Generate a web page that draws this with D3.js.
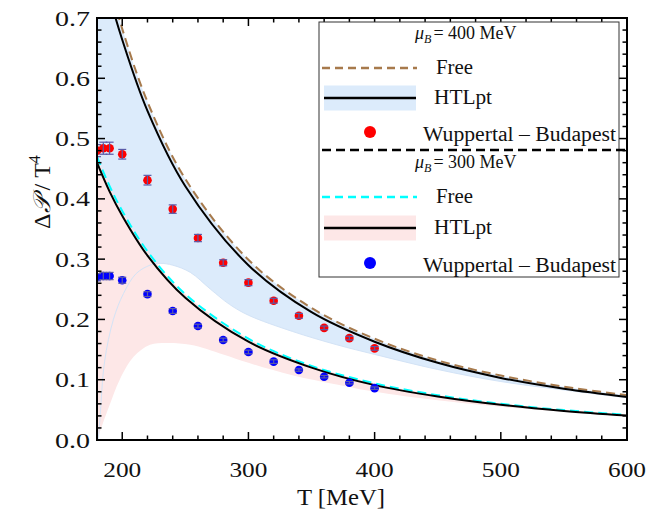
<!DOCTYPE html>
<html>
<head>
<meta charset="utf-8">
<script src="https://cdn.jsdelivr.net/npm/d3@7"></script>
<style>
  body { margin: 0; background: #fff; }
  svg text { font-family: "Liberation Serif", "Times New Roman", serif; fill: #111; }
</style>
</head>
<body>
<div id="chart"></div>
<script>
// curve samples
const T_CURVE = [180, 190, 200, 220, 250, 300, 350, 400, 450, 500, 550, 600];
const free400 = [0.846, 0.757, 0.682, 0.561, 0.433, 0.299, 0.219, 0.168, 0.132, 0.107, 0.0885, 0.0743];
const htl400  = [0.820, 0.735, 0.664, 0.546, 0.421, 0.290, 0.212, 0.163, 0.128, 0.103, 0.085, 0.0715];
const free300 = [0.470, 0.421, 0.380, 0.313, 0.242, 0.168, 0.123, 0.094, 0.0743, 0.0601, 0.0496, 0.0417];
const htl300  = [0.460, 0.412, 0.372, 0.306, 0.236, 0.163, 0.120, 0.091, 0.0722, 0.0584, 0.0482, 0.0405];

// lower edges of the HTLpt bands
const lowT400 = [181, 182.5, 186, 193, 201, 211, 222, 230, 240, 254, 270, 285, 300, 335, 370, 400, 450, 500, 550, 600];
const low400  = [0, 0.04, 0.13, 0.20, 0.243, 0.276, 0.290, 0.293, 0.290, 0.278, 0.25, 0.225, 0.207, 0.18, 0.158, 0.142, 0.117, 0.097, 0.083, 0.070];
const lowT300 = [180, 182, 185, 190, 198, 209, 222, 235, 254, 280, 300, 334, 370, 400, 450, 500, 550, 600];
const low300  = [0, 0.012, 0.03, 0.058, 0.10, 0.138, 0.158, 0.161, 0.158, 0.142, 0.128, 0.108, 0.092, 0.080, 0.066, 0.055, 0.047, 0.039];

// lattice points (Wuppertal-Budapest)
const T_DATA  = [180, 185, 190, 200, 220, 240, 260, 280, 300, 320, 340, 360, 380, 400];
const wb400   = [0.480, 0.484, 0.484, 0.474, 0.431, 0.383, 0.335, 0.294, 0.261, 0.231, 0.206, 0.186, 0.169, 0.152];
const wbErr400 = [0.010, 0.010, 0.010, 0.008, 0.008, 0.007, 0.006, 0.005, 0.005, 0.004, 0.004, 0.003, 0.003, 0.003];
const wb300   = [0.270, 0.272, 0.272, 0.265, 0.242, 0.214, 0.189, 0.166, 0.146, 0.130, 0.116, 0.105, 0.095, 0.086];
const wbErr300 = [0.006, 0.006, 0.006, 0.005, 0.004, 0.004, 0.003, 0.003, 0.003, 0.003, 0.002, 0.002, 0.002, 0.002];

const xTicks = [200, 300, 400, 500, 600];
const yTicks = [0.0, 0.1, 0.2, 0.3, 0.4, 0.5, 0.6, 0.7];

const W = 662, H = 512;
const box = { left: 97, right: 627, top: 18, bottom: 440 };

const svg = d3.select('#chart').append('svg').attr('width', W).attr('height', H);

const x = d3.scaleLinear().domain([180, 600]).range([box.left, box.right]);
const y = d3.scaleLinear().domain([0, 0.7]).range([box.bottom, box.top]);

svg.append('clipPath').attr('id', 'clip')
  .append('rect')
  .attr('x', box.left).attr('y', box.top)
  .attr('width', box.right - box.left).attr('height', box.bottom - box.top);

const plot = svg.append('g').attr('clip-path', 'url(#clip)');

const pts = (ts, vs) => ts.map((t, i) => [x(t), y(vs[i])]);
const line = d3.line().curve(d3.curveCatmullRom.alpha(0.5));

function bandPath(upT, upV, loT, loV) {
  const up = line(pts(upT, upV));
  const lo = line(pts(loT, loV).reverse());
  return up + lo.replace(/^M/, 'L') + 'Z';
}

const blueFill = '#dcebfb', pinkFill = '#fde7e7';

plot.append('path').attr('d', bandPath(T_CURVE, free400, lowT400, low400)).attr('fill', blueFill);
plot.append('path').attr('d', bandPath(T_CURVE, free300, lowT300, low300)).attr('fill', pinkFill);
plot.append('path').attr('d', line(pts(lowT400, low400)))
  .attr('fill', 'none').attr('stroke', '#d3e3f6').attr('stroke-width', 1);

plot.append('path').attr('d', line(pts(T_CURVE, free400)))
  .attr('fill', 'none').attr('stroke', '#a77a4c').attr('stroke-width', 2).attr('stroke-dasharray', '9,5');
plot.append('path').attr('d', line(pts(T_CURVE, free300)))
  .attr('fill', 'none').attr('stroke', '#00ffff').attr('stroke-width', 2).attr('stroke-dasharray', '9,5');
plot.append('path').attr('d', line(pts(T_CURVE, htl400)))
  .attr('fill', 'none').attr('stroke', '#000').attr('stroke-width', 2);
plot.append('path').attr('d', line(pts(T_CURVE, htl300)))
  .attr('fill', 'none').attr('stroke', '#000').attr('stroke-width', 2);

const errColor = '#5a5aa8';
function drawPoints(vals, errs, color) {
  const g = plot.append('g');
  T_DATA.forEach((t, i) => {
    g.append('circle').attr('cx', x(t)).attr('cy', y(vals[i])).attr('r', 4.3).attr('fill', color);
  });
  T_DATA.forEach((t, i) => {
    const cx = x(t), y0 = y(vals[i] - errs[i]), y1 = y(vals[i] + errs[i]);
    g.append('line').attr('x1', cx).attr('x2', cx).attr('y1', y0).attr('y2', y1)
      .attr('stroke', errColor).attr('stroke-width', 1.2);
    [y0, y1].forEach(yy => g.append('line').attr('x1', cx - 4).attr('x2', cx + 4).attr('y1', yy).attr('y2', yy)
      .attr('stroke', errColor).attr('stroke-width', 1.2));
  });
}
drawPoints(wb400, wbErr400, '#ff0000');
drawPoints(wb300, wbErr300, '#0000ff');

// frame and ticks (inward, on all sides)
const axes = svg.append('g');
axes.append('rect')
  .attr('x', box.left).attr('y', box.top)
  .attr('width', box.right - box.left).attr('height', box.bottom - box.top)
  .attr('fill', 'none').attr('stroke', '#000').attr('stroke-width', 2);

const xMinor = d3.range(180, 601, 20);
const yMinor = d3.range(0, 0.7001, 0.02);
xMinor.forEach(t => {
  const major = xTicks.includes(t);
  const len = major ? 8 : 4.5;
  axes.append('line').attr('x1', x(t)).attr('x2', x(t)).attr('y1', box.bottom).attr('y2', box.bottom - len).attr('stroke', '#000').attr('stroke-width', 1.5);
  axes.append('line').attr('x1', x(t)).attr('x2', x(t)).attr('y1', box.top).attr('y2', box.top + len).attr('stroke', '#000').attr('stroke-width', 1.5);
});
yMinor.forEach(v => {
  const major = Math.abs(v * 10 - Math.round(v * 10)) < 1e-6;
  const len = major ? 8 : 4.5;
  axes.append('line').attr('x1', box.left).attr('x2', box.left + len).attr('y1', y(v)).attr('y2', y(v)).attr('stroke', '#000').attr('stroke-width', 1.5);
  axes.append('line').attr('x1', box.right).attr('x2', box.right - len).attr('y1', y(v)).attr('y2', y(v)).attr('stroke', '#000').attr('stroke-width', 1.5);
});

xTicks.forEach(t => {
  axes.append('text').attr('x', x(t)).attr('y', 477).attr('text-anchor', 'middle')
    .attr('textLength', 38).attr('lengthAdjust', 'spacingAndGlyphs')
    .style('font-size', '22px').text(t);
});
yTicks.forEach(v => {
  axes.append('text').attr('x', 90).attr('y', y(v) + 7.5).attr('text-anchor', 'end')
    .attr('textLength', 35).attr('lengthAdjust', 'spacingAndGlyphs')
    .style('font-size', '22px').text(v.toFixed(1));
});

axes.append('text').attr('x', 341).attr('y', 505).attr('text-anchor', 'middle')
  .attr('textLength', 88).attr('lengthAdjust', 'spacingAndGlyphs')
  .style('font-size', '24px').text('T [MeV]');

const yl = axes.append('text').attr('transform', 'translate(50,192) rotate(-90)').attr('text-anchor', 'middle')
  .style('font-size', '24px');
yl.append('tspan').text('Δ');
yl.append('tspan').style('font-style', 'italic').text('𝒫');
yl.append('tspan').text(' / T');
yl.append('tspan').attr('dy', -10).style('font-size', '16px').text('4');

// legend
const lg = svg.append('g');
lg.append('rect').attr('x', 319).attr('y', 22).attr('width', 300).attr('height', 255)
  .attr('fill', '#fff').attr('stroke', '#333').attr('stroke-width', 1);

function muLabel(yy, val) {
  const t = lg.append('text').attr('x', 415).attr('y', yy).style('font-size', '18px');
  t.append('tspan').style('font-style', 'italic').text('μ');
  t.append('tspan').attr('dy', 4).style('font-size', '12px').style('font-style', 'italic').text('B');
  t.append('tspan').attr('dy', -4).attr('dx', 2).text('= ' + val + ' MeV');
}
function legendText(xx, yy, len, label) {
  lg.append('text').attr('x', xx).attr('y', yy).style('font-size', '20px')
    .attr('textLength', len).attr('lengthAdjust', 'spacingAndGlyphs').text(label);
}
function dashEntry(yy, color, label) {
  lg.append('line').attr('x1', 322).attr('x2', 417).attr('y1', yy).attr('y2', yy)
    .attr('stroke', color).attr('stroke-width', 2.5).attr('stroke-dasharray', '8,5');
  legendText(436, yy + 6, 37, label);
}
function bandEntry(yy, fill) {
  lg.append('rect').attr('x', 324).attr('y', yy - 12.5).attr('width', 92).attr('height', 25).attr('fill', fill);
  lg.append('line').attr('x1', 324).attr('x2', 416).attr('y1', yy).attr('y2', yy).attr('stroke', '#000').attr('stroke-width', 2.5);
  legendText(434, yy + 6, 58, 'HTLpt');
}
function dotEntry(yy, color) {
  lg.append('circle').attr('cx', 370).attr('cy', yy).attr('r', 6).attr('fill', color);
  legendText(423, yy + 9, 193, 'Wuppertal – Budapest');
}

muLabel(39, 400);
dashEntry(68, '#a77a4c', 'Free');
bandEntry(98, blueFill);
dotEntry(132, '#ff0000');
lg.append('line').attr('x1', 322).attr('x2', 626).attr('y1', 150).attr('y2', 150)
  .attr('stroke', '#000').attr('stroke-width', 2.5).attr('stroke-dasharray', '9,5');
muLabel(168, 300);
dashEntry(197, '#00ffff', 'Free');
bandEntry(228, pinkFill);
dotEntry(263, '#0000ff');
</script>
</body>
</html>
